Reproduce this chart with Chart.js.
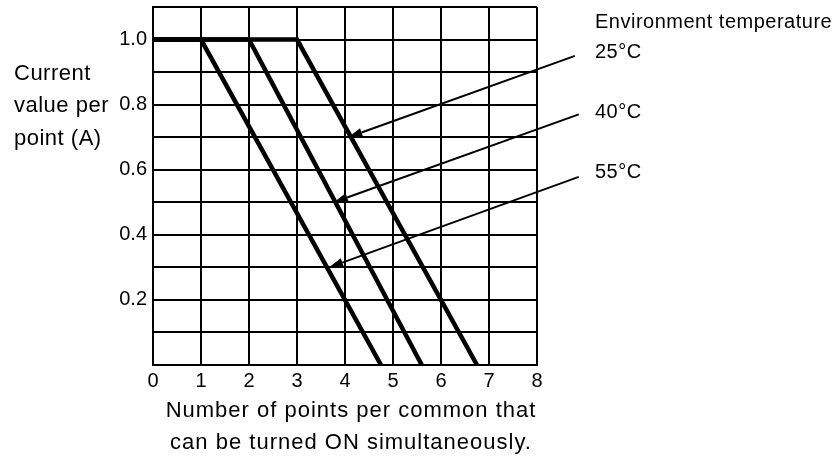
<!DOCTYPE html>
<html>
<head>
<meta charset="utf-8">
<script src="https://cdn.jsdelivr.net/npm/chart.js@4.4.1/dist/chart.umd.min.js"></script>
<style>
html, body { margin: 0; padding: 0; background: #fff; }
#wrap { width: 837px; height: 457px; }
</style>
</head>
<body>
<div id="wrap"><canvas id="myChart" width="837" height="457"></canvas></div>
<script>
// derating curves (points per common vs current per point)
const temps = ['25°C', '40°C', '55°C'];
const points25 = [0, 3, 6.75];
const current25 = [1.0, 1.0, 0];
const points40 = [0, 2, 5.6];
const current40 = [1.0, 1.0, 0];
const points55 = [0, 1, 4.75];
const current55 = [1.0, 1.0, 0];
const yTickLabels = [0.2, 0.4, 0.6, 0.8, 1.0];

// arrows from the temperature labels to the curves, in data units
const arrowFromX = [8.79, 8.87, 8.87];
const arrowFromY = [0.95, 0.77, 0.578];
const arrowToX = [4.07, 3.77, 3.67];
const arrowToY = [0.7, 0.5, 0.3];

const FONT = 'Liberation Sans, Arial, Helvetica, sans-serif';

function toXY(xs, ys) {
    return xs.map((v, i) => ({ x: v, y: ys[i] }));
}

// arrows + free text (axis titles and temperature labels)
const decorPlugin = {
    id: 'decor',
    afterDatasetsDraw(chart) {
        const { ctx, scales: { x, y }, chartArea } = chart;
        ctx.save();
        ctx.strokeStyle = '#000';
        ctx.fillStyle = '#000';
        ctx.lineWidth = 2;
        for (let i = 0; i < temps.length; i++) {
            const x0 = x.getPixelForValue(arrowFromX[i]), y0 = y.getPixelForValue(arrowFromY[i]);
            const x1 = x.getPixelForValue(arrowToX[i]), y1 = y.getPixelForValue(arrowToY[i]);
            const ang = Math.atan2(y1 - y0, x1 - x0);
            const len = 14, half = 4.5;
            const bx = x1 - len * Math.cos(ang), by = y1 - len * Math.sin(ang);
            ctx.beginPath();
            ctx.moveTo(x0, y0);
            ctx.lineTo(bx, by);
            ctx.stroke();
            ctx.beginPath();
            ctx.moveTo(x1, y1);
            ctx.lineTo(bx + half * Math.sin(ang), by - half * Math.cos(ang));
            ctx.lineTo(bx - half * Math.sin(ang), by + half * Math.cos(ang));
            ctx.closePath();
            ctx.fill();
        }

        ctx.textBaseline = 'alphabetic';
        ctx.textAlign = 'left';
        // legend text on the right
        ctx.font = '20px ' + FONT;
        ctx.letterSpacing = '0.5px';
        const lx = chartArea.right + 58;
        ctx.fillText('Environment temperature', lx, 28);
        ctx.fillText(temps[0], lx, 58);
        ctx.fillText(temps[1], lx, 118);
        ctx.fillText(temps[2], lx, 178);

        // y title, horizontal, three lines
        ctx.font = '22px ' + FONT;
        ctx.letterSpacing = '0.5px';
        ctx.fillText('Current', 14, 80);
        ctx.fillText('value per', 14, 112);
        ctx.fillText('point (A)', 14, 145);

        // x title, two lines
        ctx.font = '22px ' + FONT;
        ctx.letterSpacing = '1px';
        ctx.textAlign = 'center';
        const cx = (chartArea.left + chartArea.right) / 2 + 6;
        ctx.fillText('Number of points per common that', cx, 417);
        ctx.fillText('can be turned ON simultaneously.', cx, 449);
        ctx.restore();
    }
};

const lineStyle = {
    borderColor: '#000',
    borderWidth: 4.5,
    pointRadius: 0,
    tension: 0,
    fill: false,
    borderCapStyle: 'butt',
    borderJoinStyle: 'miter'
};

const chartObj = new Chart(document.getElementById('myChart').getContext('2d'), {
    type: 'line',
    data: {
        datasets: [
            Object.assign({ label: temps[0], data: toXY(points25, current25) }, lineStyle),
            Object.assign({ label: temps[1], data: toXY(points40, current40) }, lineStyle),
            Object.assign({ label: temps[2], data: toXY(points55, current55) }, lineStyle)
        ]
    },
    options: {
        responsive: false,
        animation: false,
        layout: { padding: { left: 0, right: 300, top: 7, bottom: 0 } },
        plugins: {
            legend: { display: false },
            tooltip: { enabled: false }
        },
        scales: {
            x: {
                type: 'linear',
                min: 0,
                max: 8,
                afterFit: (s) => { s.height = 92; },
                ticks: {
                    stepSize: 1,
                    color: '#000',
                    padding: 4,
                    font: { family: FONT, size: 20 }
                },
                grid: { color: '#000', lineWidth: 2, drawTicks: false },
                border: { color: '#000', width: 2 }
            },
            y: {
                type: 'linear',
                min: 0,
                max: 1.1,
                afterFit: (s) => { s.width = 153; s.paddingTop = 0; s.paddingBottom = 0; },
                ticks: {
                    stepSize: 0.1,
                    autoSkip: false,
                    color: '#000',
                    padding: 6,
                    font: { family: FONT, size: 20 },
                    callback: (v) => {
                        const r = Math.round(v * 10) / 10;
                        return yTickLabels.includes(r) ? r.toFixed(1) : '';
                    }
                },
                grid: { color: '#000', lineWidth: 2, drawTicks: false },
                border: { color: '#000', width: 2 }
            }
        }
    },
    plugins: [decorPlugin]
});
</script>
</body>
</html>
